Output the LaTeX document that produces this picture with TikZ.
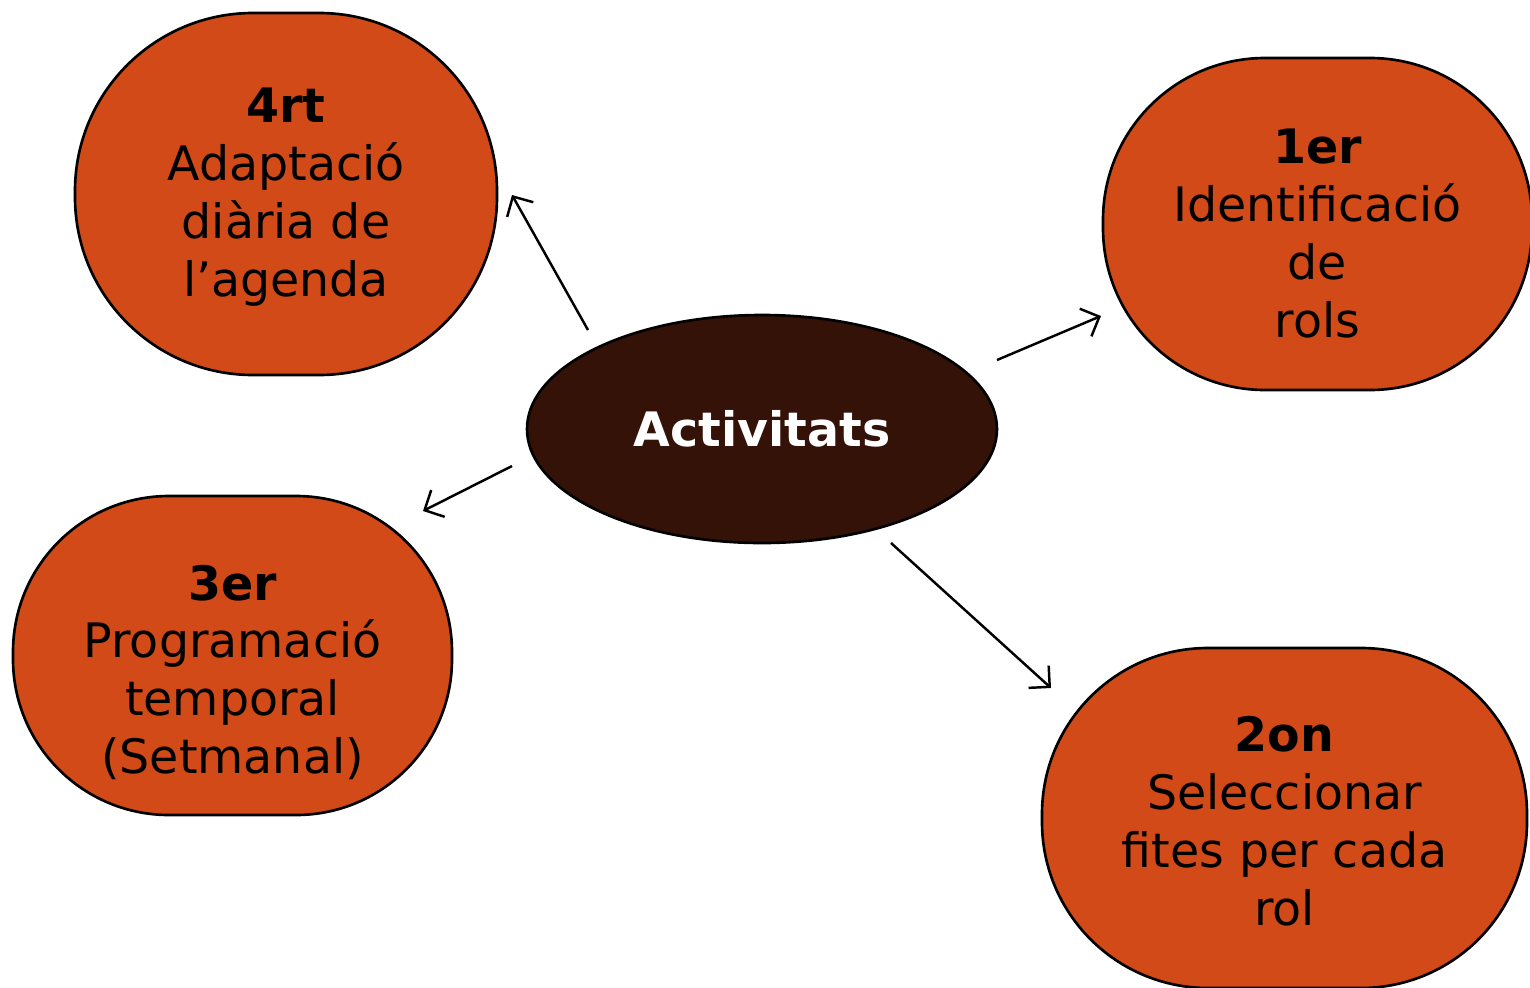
\documentclass[tikz,border=0pt]{standalone}
\usepackage{fontspec}
\setmainfont{DejaVu Sans}
\usetikzlibrary{shapes.geometric, arrows.meta, positioning}
\definecolor{rust}{HTML}{D14A17}
\definecolor{darkbrown}{HTML}{341208}
\tikzset{
    stage/.style = {rectangle, draw, line width=0.75pt, fill=rust, inner sep=0pt},
    stagetext/.style = {text centered, align=center, inner sep=0pt, font=\fontsize{13.5}{16.5}\selectfont},
    hub/.style = {ellipse, draw, line width=0.75pt, fill=darkbrown, text=white, inner sep=0pt, font=\fontsize{13.5}{16.5}\selectfont\bfseries},
    line/.style = {draw, -{Straight Barb[length=1.5mm, width=3mm]}, line width=0.7pt}
}
\begin{document}
\begin{tikzpicture}
        \useasboundingbox (0,0) rectangle (15.3,-9.87);
        % Centre
        \node [hub, minimum width=4.7cm, minimum height=2.28cm] (activitats) at (7.62,-4.29) {Activitats};

        % Stages
        \node [stage, minimum width=4.29cm, minimum height=3.32cm, rounded corners=1.62cm] (rols) at (13.175,-2.24) {};
        \node [stagetext, yshift=-1mm] (rolstext) at (rols) {\textbf{1er}\\Identificació\\de\\rols};
        \node [stage, minimum width=4.85cm, minimum height=3.4cm, rounded corners=1.66cm] (fites) at (12.845,-8.18) {};
        \node [stagetext, yshift=-0.3mm] (fitestext) at (fites) {\textbf{2on}\\Seleccionar\\fites per cada\\rol};
        \node [stage, minimum width=4.39cm, minimum height=3.19cm, rounded corners=1.56cm] (programacio) at (2.325,-6.555) {};
        \node [stagetext, yshift=-1.7mm] (programaciotext) at (programacio) {\textbf{3er}\\Programació\\temporal\\(Setmanal)};
        \node [stage, minimum width=4.22cm, minimum height=3.62cm, rounded corners=1.78cm] (adaptacio) at (2.86,-1.94) {};
        \node [stagetext, yshift=-0.3mm] (adaptaciotext) at (adaptacio) {\textbf{4rt}\\Adaptació\\diària de\\l’agenda};

        % Arrow ends
        \coordinate (a1) at (9.97,-3.60);
        \coordinate (b1) at (11.01,-3.16);
        \coordinate (a2) at (8.91,-5.43);
        \coordinate (b2) at (10.51,-6.88);
        \coordinate (a3) at (5.12,-4.66);
        \coordinate (b3) at (4.23,-5.11);
        \coordinate (a4) at (5.88,-3.30);
        \coordinate (b4) at (5.12,-1.95);

        % Edges
        \path [line] (a1) -- (b1);
        \path [line] (a2) -- (b2);
        \path [line] (a3) -- (b3);
        \path [line] (a4) -- (b4);

    \end{tikzpicture}
\end{document}
